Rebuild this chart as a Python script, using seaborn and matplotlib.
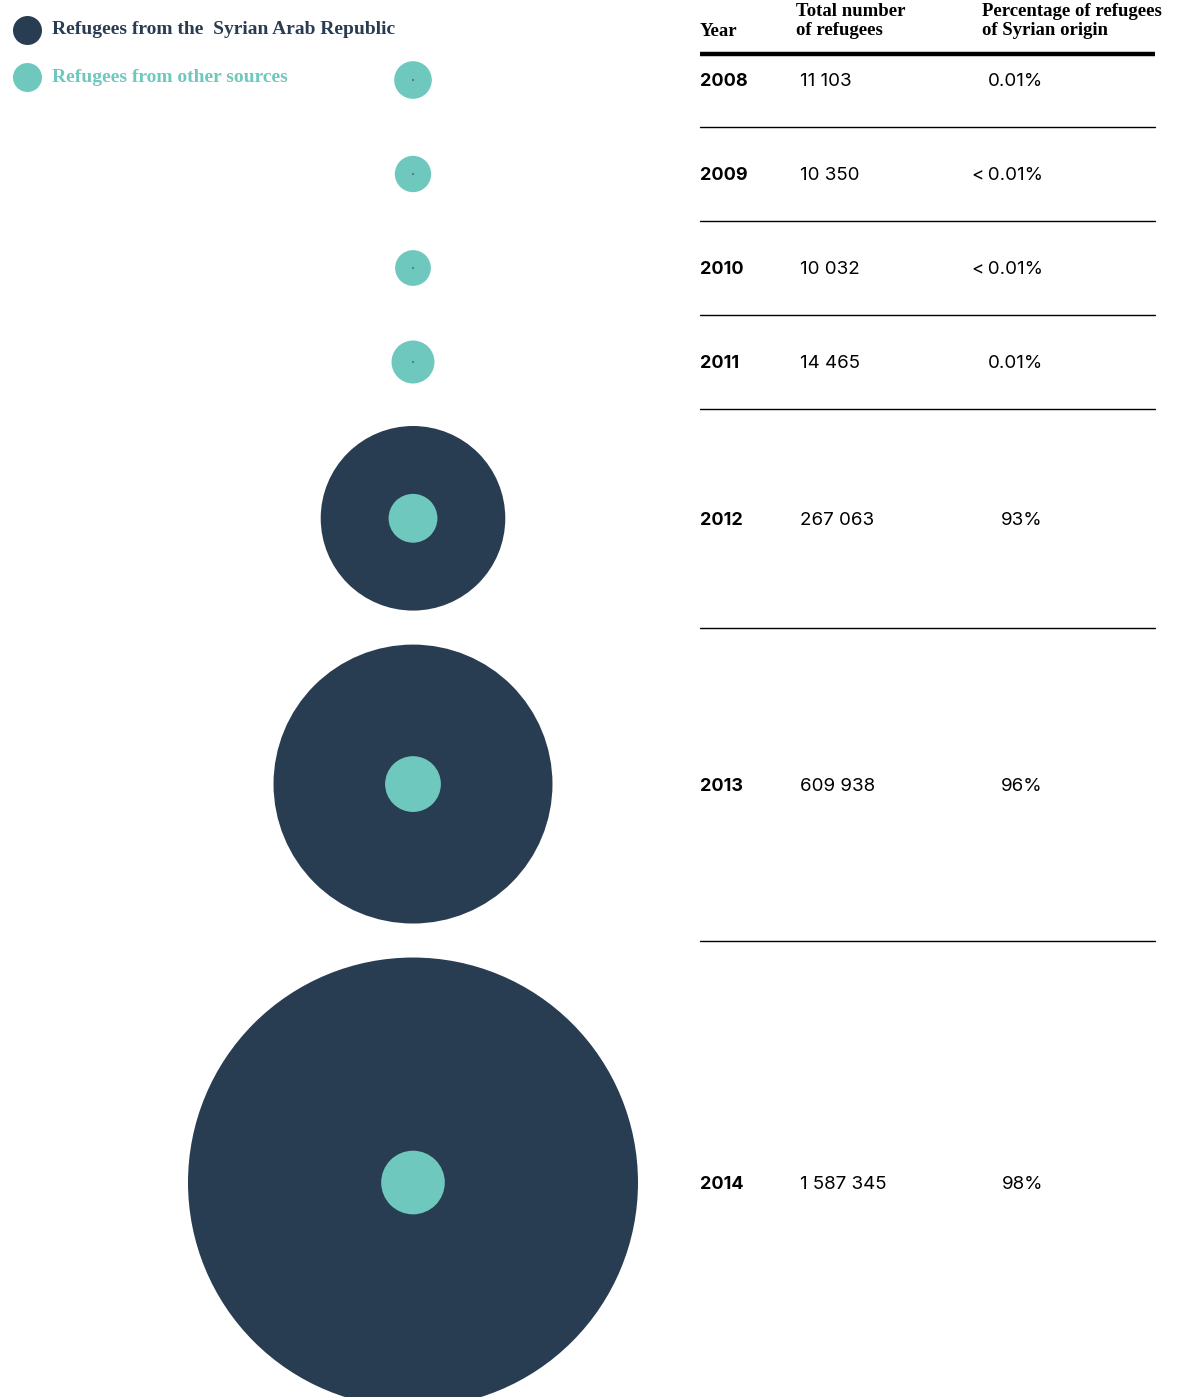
import numpy as np
import seaborn as sns
import matplotlib.pyplot as plt

# === data ===
years = [2008, 2009, 2010, 2011, 2012, 2013, 2014]
total_refugees = [11103, 10350, 10032, 14465, 267063, 609938, 1587345]
syrian_share = [0.0001, 0.00005, 0.00005, 0.0001, 0.93, 0.96, 0.98]
syrian_labels = ["0.01%", "<\u20090.01%", "<\u20090.01%", "0.01%", "93%", "96%", "98%"]

legend_labels = ["Refugees from the  Syrian Arab Republic", "Refugees from other sources"]

NAVY = "#293d52"
TEAL = "#6ec8bd"

# === layout (pixels) ===
W, H, DPI = 1179, 1397, 100
R_MAX = 225          # radius of the biggest circle
CX = 413             # circle column
ROW_MIN, ROW_PAD, FIRST_TOP = 94, 34, 33

sns.set_theme(style="white")
plt.rcParams['font.family'] = ['Inter', 'DejaVu Sans']

fig = plt.figure(figsize=(W / DPI, H / DPI), dpi=DPI)
ax = fig.add_axes([0, 0, 1, 1])
ax.set_xlim(0, W)
ax.set_ylim(H, 0)
ax.axis("off")

totals = np.array(total_refugees, dtype=float)
syrian = totals * np.array(syrian_share)
other = totals - syrian

def radius(v):
    return R_MAX * np.sqrt(v / totals.max())

r_total = radius(totals)
heights = np.maximum(ROW_MIN, 2 * r_total + ROW_PAD)
tops = FIRST_TOP + np.concatenate([[0], np.cumsum(heights)[:-1]])
centers = tops + heights / 2

def px_to_size(r):
    # scatter size in points^2 for a circle of radius r pixels
    return (2 * r * 72 / DPI) ** 2

# outer circle: whole population, coloured by the majority group
major_is_syrian = syrian >= other
outer_col = [NAVY if m else TEAL for m in major_is_syrian]
inner_col = [TEAL if m else NAVY for m in major_is_syrian]
r_inner = np.maximum(radius(np.minimum(syrian, other)), 0.8)

xs = np.full(len(years), CX)
ax.scatter(xs, centers, s=px_to_size(r_total), c=outer_col, linewidths=0, zorder=2)
ax.scatter(xs, centers, s=px_to_size(r_inner), c=inner_col, linewidths=0, zorder=3)

# === table ===
X_YEAR, X_NUM, X_PCT, X_END = 700, 800, 1043, 1155
serif = ['Liberation Serif']
ax.text(X_YEAR, 32, "Year", fontsize=13.5, fontweight="bold", family=serif,
        va="center", ha="left", color="black")
ax.text(796, 21, "Total number\nof refugees", fontsize=13.5, fontweight="bold",
        family=serif, va="center", ha="left", linespacing=1.1, color="black")
ax.text(982, 21, "Percentage of refugees\nof Syrian origin", fontsize=13.5,
        fontweight="bold", family=serif, va="center", ha="left",
        linespacing=1.1, color="black")
ax.plot([X_YEAR, X_END], [54, 54], color="black", lw=3.2, solid_capstyle="butt")

for i, yr in enumerate(years):
    y = centers[i] + 2
    ax.text(X_YEAR, y, str(yr), fontsize=13, fontweight="bold", va="center",
            ha="left", color="black")
    ax.text(X_NUM, y, f"{total_refugees[i]:,}".replace(",", " "), fontsize=13.5,
            va="center", ha="left", color="black")
    ax.text(X_PCT, y, syrian_labels[i], fontsize=13.5, va="center", ha="right",
            color="black")
    if i < len(years) - 1:
        yb = tops[i] + heights[i]
        ax.plot([X_YEAR, X_END], [yb, yb], color="black", lw=1)

# === legend ===
for k, (lab, col) in enumerate(zip(legend_labels, [NAVY, TEAL])):
    ly = 30 + 47 * k
    ax.scatter([27], [ly], s=px_to_size(14.5), color=col, linewidths=0)
    ax.text(52, ly, lab, fontsize=14, fontweight="bold", family=serif,
            color=col, va="center", ha="left")

fig.savefig("out.png", dpi=DPI)
